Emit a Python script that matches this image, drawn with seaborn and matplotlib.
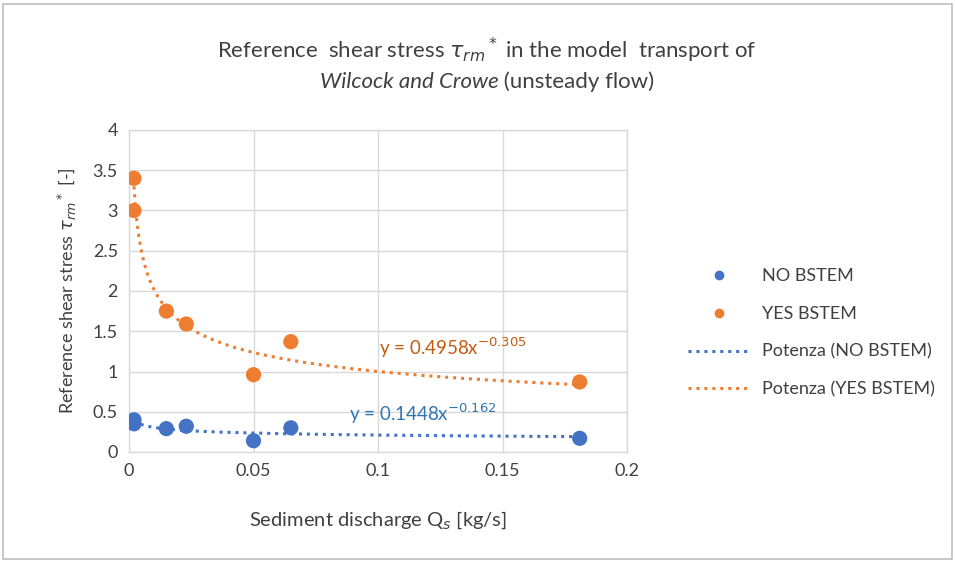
import numpy as np
import pandas as pd
import matplotlib
matplotlib.use("Agg")
import matplotlib.pyplot as plt
import seaborn as sns
from matplotlib.patches import Rectangle
from matplotlib.lines import Line2D

# ---- data ----
no_x = [0.002, 0.002, 0.015, 0.023, 0.050, 0.065, 0.181]
no_y = [0.40, 0.35, 0.29, 0.32, 0.14, 0.30, 0.17]
yes_x = [0.002, 0.002, 0.015, 0.023, 0.050, 0.065, 0.181]
yes_y = [3.40, 3.00, 1.75, 1.59, 0.96, 1.37, 0.87]
fit_no = (0.1448, -0.162)
fit_yes = (0.4958, -0.305)
x_ticks = [0, 0.05, 0.1, 0.15, 0.2]
y_ticks = [0, 0.5, 1, 1.5, 2, 2.5, 3, 3.5, 4]

BLUE = "#4472C4"
ORANGE = "#ED7D31"

sns.set_theme(style="white")
plt.rcParams['font.family'] = ['Lato', 'DejaVu Sans']

fig = plt.figure(figsize=(9.55, 5.62), dpi=100)
ax = fig.add_axes([129/955, 1-452/562, (627-129)/955, (452-130)/562])

df = pd.DataFrame({
    "x": no_x + yes_x,
    "y": no_y + yes_y,
    "s": ["NO BSTEM"]*len(no_x) + ["YES BSTEM"]*len(yes_x),
})

# trendlines
tx = np.linspace(min(no_x), max(no_x), 300)
sns.lineplot(x=tx, y=fit_no[0]*tx**fit_no[1], ax=ax, color=BLUE, lw=2.2,
             linestyle=(0, (1, 1.6)), legend=False)
tx2 = np.linspace(min(yes_x), max(yes_x), 300)
sns.lineplot(x=tx2, y=fit_yes[0]*tx2**fit_yes[1], ax=ax, color=ORANGE, lw=2.2,
             linestyle=(0, (1, 1.6)), legend=False)

sns.scatterplot(data=df, x="x", y="y", hue="s", palette=[BLUE, ORANGE],
                s=120, edgecolor="none", ax=ax, legend=False, zorder=3)

ax.set_xlim(0, 0.2)
ax.set_ylim(0, 4)
ax.set_xticks(x_ticks)
ax.set_xticklabels(["0", "0.05", "0.1", "0.15", "0.2"])
ax.set_yticks(y_ticks)
ax.set_yticklabels(["0", "0.5", "1", "1.5", "2", "2.5", "3", "3.5", "4"])
ax.tick_params(axis="both", labelsize=13, colors="#404040", length=0, pad=8)
ax.grid(True, color="#d9d9d9", lw=1)
for sp in ax.spines.values():
    sp.set_color("#d9d9d9")
    sp.set_linewidth(1)

ax.set_xlabel("Sediment discharge Q$_s$ [kg/s]", fontsize=14.5, color="#404040", labelpad=22)
ax.set_ylabel(r"Reference shear stress $\tau_{rm}$$^*$ [-]", fontsize=13, color="#404040", labelpad=10)

ax.text(0.1005, 1.29, "y = 0.4958x$^{-0.305}$", color="#C55A11", fontsize=13.5, va="center")
ax.text(0.0885, 0.47, "y = 0.1448x$^{-0.162}$", color="#2E75B6", fontsize=13.5, va="center")

fig.text(487/955, 1-50/562, r"Reference  shear stress $\tau_{rm}$$^*$ in the model  transport of",
         ha="center", va="center", fontsize=16, color="#404040")
# second title line: italic part + regular part
t1 = fig.text(0, 1-82/562, "Wilcock and Crowe", ha="left", va="center",
              fontsize=16, color="#404040", fontstyle="italic")
t2 = fig.text(0, 1-82/562, " (unsteady flow)", ha="left", va="center",
              fontsize=16, color="#404040")
fig.canvas.draw()
r = fig.canvas.get_renderer()
w1 = t1.get_window_extent(r).width
w2 = t2.get_window_extent(r).width
start = 487 - (w1 + w2) / 2
t1.set_x(start / 955)
t2.set_x((start + w1) / 955)

handles = [
    Line2D([], [], marker="o", color=BLUE, ls="none", markersize=6),
    Line2D([], [], marker="o", color=ORANGE, ls="none", markersize=6),
    Line2D([], [], color=BLUE, lw=2.2, ls=(0, (1, 1.6))),
    Line2D([], [], color=ORANGE, lw=2.2, ls=(0, (1, 1.6))),
]
labels = ["NO BSTEM", "YES BSTEM", "Potenza (NO BSTEM)", "Potenza (YES BSTEM)"]
fig.legend(handles, labels, loc="center left", bbox_to_anchor=(672/955, 1-333/562),
           frameon=False, fontsize=13, labelspacing=1.2, handlelength=3.4,
           handletextpad=0.7, labelcolor="#404040")

fig.patches.append(Rectangle((3/955, 3/562), 949/955, 555/562, transform=fig.transFigure,
                             fill=False, edgecolor="#bfbfbf", lw=1.2))

fig.savefig("out.png", dpi=100)
